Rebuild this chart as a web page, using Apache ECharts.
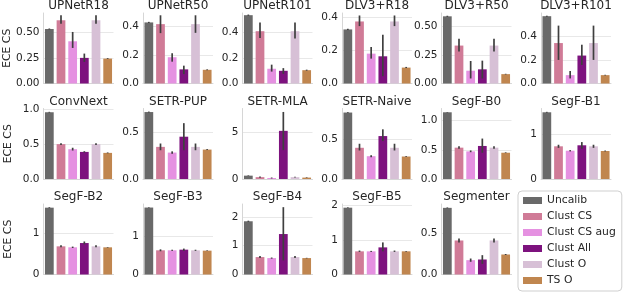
<!DOCTYPE html>
<html>
<head>
<meta charset="utf-8">
<script src="https://cdn.jsdelivr.net/npm/echarts@6/dist/echarts.min.js"></script>
<style>html,body{margin:0;padding:0;background:#fff}#c{width:623px;height:294px}</style>
</head>
<body>
<div id="c"></div>
<script>
// ---- data ----
const models = ['UPNetR18','UPNetR50','UPNetR101','DLV3+R18','DLV3+R50','DLV3+R101',
  'ConvNext','SETR-PUP','SETR-MLA','SETR-Naive','SegF-B0','SegF-B1',
  'SegF-B2','SegF-B3','SegF-B4','SegF-B5','Segmenter'];
const methods = ['Uncalib','Clust CS','Clust CS aug','Clust All','Clust O','TS O'];

const uncalib    = [0.532,0.428,0.533,0.326,0.588,0.571, 0.961,0.717,0.36,0.839,1.145,1.50, 1.64,1.757,1.85,1.924,0.813];
const uncalibLo  = [0.527,0.424,0.528,0.322,0.583,0.566, 0.955,0.712,0.33,0.834,1.14,1.49,  1.63,1.75,1.83,1.915,0.808];
const uncalibHi  = [0.537,0.432,0.538,0.330,0.593,0.575, 0.967,0.722,0.39,0.844,1.15,1.51,  1.65,1.765,1.87,1.933,0.818];

const clustCS    = [0.617,0.416,0.408,0.374,0.332,0.343, 0.502,0.344,0.20,0.394,0.538,0.735, 0.691,0.635,0.606,0.667,0.415];
const clustCSLo  = [0.584,0.353,0.355,0.346,0.279,0.200, 0.490,0.308,0.14,0.360,0.520,0.700, 0.670,0.610,0.570,0.650,0.390];
const clustCSHi  = [0.666,0.478,0.475,0.410,0.391,0.491, 0.515,0.380,0.26,0.445,0.560,0.770, 0.720,0.660,0.640,0.690,0.440];

const clustAug   = [0.412,0.184,0.115,0.180,0.112,0.071, 0.429,0.283,0.11,0.288,0.474,0.636, 0.667,0.635,0.571,0.667,0.175];
const clustAugLo = [0.347,0.153,0.093,0.150,0.044,0.043, 0.410,0.270,0.06,0.275,0.460,0.620, 0.650,0.620,0.550,0.650,0.155];
const clustAugHi = [0.503,0.212,0.147,0.220,0.197,0.106, 0.450,0.296,0.16,0.300,0.490,0.650, 0.685,0.650,0.590,0.680,0.195];

const clustAll   = [0.250,0.099,0.099,0.164,0.124,0.237, 0.390,0.453,5.17,0.542,0.567,0.758, 0.772,0.652,1.406,0.781,0.183];
const clustAllLo = [0.211,0.066,0.075,0.044,0.044,0.157, 0.380,0.308,3.10,0.479,0.451,0.680, 0.740,0.620,0.490,0.667,0.130];
const clustAllHi = [0.292,0.125,0.120,0.294,0.200,0.329, 0.400,0.598,7.20,0.627,0.694,0.830, 0.810,0.680,2.340,0.924,0.236];

const clustO     = [0.617,0.416,0.408,0.374,0.332,0.343, 0.502,0.344,0.20,0.394,0.538,0.735, 0.691,0.635,0.606,0.667,0.415];
const clustOLo   = [0.584,0.355,0.352,0.346,0.279,0.200, 0.490,0.308,0.15,0.360,0.520,0.700, 0.670,0.620,0.570,0.650,0.390];
const clustOHi   = [0.666,0.478,0.475,0.410,0.391,0.491, 0.515,0.380,0.25,0.445,0.560,0.770, 0.720,0.650,0.640,0.690,0.440];

const tsO        = [0.243,0.096,0.104,0.096,0.082,0.071, 0.376,0.315,0.15,0.284,0.451,0.629, 0.667,0.626,0.571,0.667,0.244];
const tsOLo      = [0.239,0.093,0.100,0.093,0.079,0.068, 0.370,0.310,0.12,0.279,0.445,0.620, 0.660,0.620,0.560,0.655,0.238];
const tsOHi      = [0.247,0.099,0.108,0.100,0.085,0.074, 0.382,0.320,0.18,0.289,0.457,0.640, 0.675,0.635,0.580,0.675,0.250];

// axis tick settings per subplot
const yMax      = [0.688,0.494,0.55,0.425,0.617,0.598, 1.015,0.755,7.57,0.89,1.21,1.585, 1.73,1.85,2.45,2.03,0.86];
const yInterval = [0.25,0.2,0.2,0.2,0.25,0.2, 0.5,0.5,5,0.5,0.5,1, 1,1,1,1,0.5];
const yDecimals = [2,1,1,1,2,1, 1,1,0,1,1,0, 0,0,0,0,1];

// ---- build ----
const means = [uncalib, clustCS, clustAug, clustAll, clustO, tsO];
const lows  = [uncalibLo, clustCSLo, clustAugLo, clustAllLo, clustOLo, tsOLo];
const highs = [uncalibHi, clustCSHi, clustAugHi, clustAllHi, clustOHi, tsOHi];
const colors = ['#696969','#d07b97','#e591e1','#7d127e','#d7c0d6','#c0864f'];

const colLeft = [43.5,143,242.5,342,441.5,541];
const rowTop = [13,108.5,204];
const W = 70, H = 70.5;
const FONT = 'DejaVu Sans';
const TXT = '#262626';

const grids = [], xAxes = [], yAxes = [], series = [], titles = [];
models.forEach((m, i) => {
  const r = Math.floor(i / 6), c = i % 6;
  grids.push({left: colLeft[c], top: rowTop[r], width: W, height: H, containLabel: false});
  titles.push({text: m, left: colLeft[c] + W / 2, top: rowTop[r] - 13, textAlign: 'center', padding: 0,
    textStyle: {fontFamily: FONT, fontSize: 12, fontWeight: 'normal', color: TXT}});
  xAxes.push({type: 'category', gridIndex: i, data: methods, axisLabel: {show: false}, axisTick: {show: false},
    axisLine: {lineStyle: {color: '#d6d6d6', width: 1}}, splitLine: {show: false}});
  const iv = yInterval[i], dec = yDecimals[i];
  yAxes.push({type: 'value', gridIndex: i, min: 0, max: yMax[i], interval: iv,
    name: c === 0 ? 'ECE CS' : '', nameLocation: 'middle', nameGap: 30,
    nameTextStyle: {fontFamily: FONT, fontSize: 10.8, color: TXT},
    axisLine: {show: true, lineStyle: {color: '#d6d6d6', width: 1}}, axisTick: {show: false},
    axisLabel: {margin: 4, fontFamily: FONT, fontSize: 10.5, color: TXT, showMaxLabel: true,
      formatter: v => Math.abs(v / iv - Math.round(v / iv)) < 1e-6 ? v.toFixed(dec) : ''},
    splitLine: {show: true, showMaxLine: false, lineStyle: {color: '#e8e8e8', width: 1}}});
  methods.forEach((name, k) => {
    const d = methods.map((_, j) => j === k ? means[k][i] : '-');
    series.push({type: 'bar', name, xAxisIndex: i, yAxisIndex: i, stack: 's' + i, data: d,
      barWidth: '75%', itemStyle: {color: colors[k]}, silent: true, animation: false});
  });
  series.push({type: 'custom', xAxisIndex: i, yAxisIndex: i, z: 10, silent: true, animation: false,
    data: methods.map((_, k) => [k, lows[k][i], highs[k][i]]),
    encode: {x: 0, y: [1, 2]},
    renderItem: (params, api) => {
      const p1 = api.coord([api.value(0), api.value(1)]);
      const p2 = api.coord([api.value(0), api.value(2)]);
      return {type: 'line', shape: {x1: p1[0], y1: p1[1], x2: p2[0], y2: p2[1]},
        style: {stroke: '#3f3f3f', lineWidth: 1.7}};
    }});
});

const chart = echarts.init(document.getElementById('c'), null, {renderer: 'canvas'});
chart.setOption({
  animation: false,
  backgroundColor: '#ffffff',
  title: titles,
  grid: grids, xAxis: xAxes, yAxis: yAxes, series,
  legend: {data: methods, orient: 'vertical', left: 518, top: 191, padding: [4, 6, 5, 5], itemGap: 5,
    itemWidth: 19, itemHeight: 7, icon: 'rect', borderColor: '#cfcfcf', borderWidth: 1, borderRadius: 4,
    textStyle: {fontFamily: FONT, fontSize: 10.8, color: TXT}, selectedMode: false}
});
</script>
</body>
</html>
